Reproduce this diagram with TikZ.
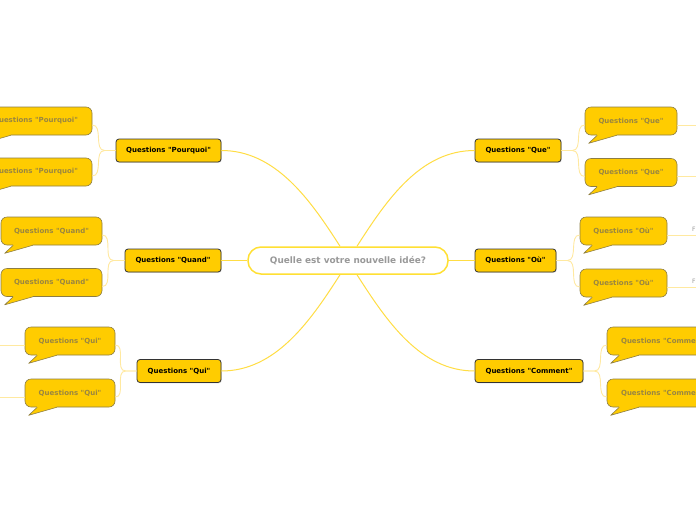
\documentclass[tikz,border=0pt]{standalone}
\usepackage{fontspec}
\setmainfont{DejaVu Sans}[Ligatures=TeXOff]
\usetikzlibrary{shadows}
\definecolor{mainfill}{HTML}{FFCC00}
\definecolor{centerline}{HTML}{FFE033}
\definecolor{branch}{HTML}{FFDD44}
\definecolor{twig}{HTML}{FFE9A0}
\definecolor{bubbletext}{HTML}{9A8640}
\definecolor{bubbleedge}{HTML}{8C7D45}
\definecolor{centertext}{HTML}{999999}
\newcommand\bubtail[1]{%
  \fill[mainfill] ([xshift=12.5pt,yshift=1.5pt]#1.south west) -- ([xshift=12.5pt]#1.south west) -- ([xshift=4pt,yshift=-8pt]#1.south west) -- ([xshift=32pt]#1.south west) -- ([xshift=32pt,yshift=1.5pt]#1.south west) -- cycle;
  \draw[bubbleedge,line width=0.6pt,line join=round] ([xshift=12.5pt]#1.south west) -- ([xshift=4pt,yshift=-8pt]#1.south west) -- ([xshift=32pt]#1.south west);}
\begin{document}
\begin{tikzpicture}[x=1pt,y=-1pt,
  topic/.style={draw=black!80, fill=mainfill, rounded corners=3pt, line width=0.8pt,
    minimum height=23pt, inner sep=0pt, font=\fontsize{7}{8}\selectfont\bfseries, text=black,
    drop shadow={shadow xshift=0.8pt, shadow yshift=-0.8pt, opacity=0.25}},
  bubble/.style={draw=bubbleedge, fill=mainfill, rounded corners=6pt, line width=0.6pt,
    minimum height=28pt, inner sep=0pt, font=\fontsize{7}{8}\selectfont\bfseries, text=bubbletext},
  branchline/.style={draw=branch, line width=1pt},
  twigline/.style={draw=twig, line width=0.9pt},
  sublabel/.style={anchor=base west, inner sep=0pt, font=\fontsize{6}{7}\selectfont, text=gray!80}]
\fill[white] (0,0) rectangle (696,520);
\useasboundingbox (0,0) rectangle (696,520);

% central topic
\node[draw=centerline, line width=1.5pt, fill=white, rounded corners=13pt, minimum width=200pt,
  minimum height=27pt, inner sep=0pt, font=\fontsize{8.9}{10}\selectfont\bfseries, text=centertext]
  (ctr) at (348,260.5) {Quelle est votre nouvelle idée?};

% main topics
\node[topic, minimum width=105pt] (pq) at (168.5,150.5) {Questions "Pourquoi"};
\node[topic, minimum width=96pt]  (qd) at (173,260.5) {Questions "Quand"};
\node[topic, minimum width=84pt]  (qi) at (179,371) {Questions "Qui"};
\node[topic, minimum width=86pt]  (qe) at (518,150.5) {Questions "Que"};
\node[topic, minimum width=81pt]  (ou) at (515.5,260.5) {Questions "Où"};
\node[topic, minimum width=108pt] (cm) at (529,371) {Questions "Comment"};

% main connectors
\draw[branchline] ([xshift=-8pt]ctr.north) .. controls +(-30,-47) and +(54,0) .. (pq.east);
\draw[branchline] ([xshift=9pt]ctr.north) .. controls +(30,-47) and +(-54,0) .. (qe.west);
\draw[branchline] ([xshift=-8pt]ctr.south) .. controls +(-30,47) and +(54,0) .. (qi.east);
\draw[branchline] ([xshift=9pt]ctr.south) .. controls +(30,47) and +(-54,0) .. (cm.west);
\draw[branchline] (ctr.west) -- (qd.east);
\draw[branchline] (ctr.east) -- (ou.west);

% callouts
\node[bubble, minimum width=113pt] (pq1) at (35.5,121) {Questions "Pourquoi"};
\node[bubble, minimum width=113pt] (pq2) at (35.5,172) {Questions "Pourquoi"};
\node[bubble, minimum width=101pt] (qd1) at (51.5,231) {Questions "Quand"};
\node[bubble, minimum width=101pt] (qd2) at (51.5,282.5) {Questions "Quand"};
\node[bubble, minimum width=90pt]  (qi1) at (70,341) {Questions "Qui"};
\node[bubble, minimum width=90pt]  (qi2) at (70,393) {Questions "Qui"};
\node[bubble, minimum width=92pt]  (qe1) at (631,121) {Questions "Que"};
\node[bubble, minimum width=92pt]  (qe2) at (631,172.5) {Questions "Que"};
\node[bubble, minimum width=87pt]  (ou1) at (623.5,231) {Questions "Où"};
\node[bubble, minimum width=87pt]  (ou2) at (623.5,283) {Questions "Où"};
\node[bubble, minimum width=115pt] (cm1) at (664.5,341) {Questions "Comment"};
\node[bubble, minimum width=115pt] (cm2) at (664.5,393) {Questions "Comment"};
\foreach \b in {pq1,pq2,qd1,qd2,qi1,qi2,qe1,qe2,ou1,ou2,cm1,cm2} {\bubtail{\b}}

% connectors from topics to callouts
\draw[twigline] (pq.west) -- ++(-11,0) to[out=180,in=0] ([yshift=-4pt]pq1.east);
\draw[twigline] (pq.west) -- ++(-11,0) to[out=180,in=0] ([yshift=-4pt]pq2.east);
\draw[twigline] (qd.west) -- ++(-11,0) to[out=180,in=0] ([yshift=-4pt]qd1.east);
\draw[twigline] (qd.west) -- ++(-11,0) to[out=180,in=0] ([yshift=-4pt]qd2.east);
\draw[twigline] (qi.west) -- ++(-11,0) to[out=180,in=0] ([yshift=-4pt]qi1.east);
\draw[twigline] (qi.west) -- ++(-11,0) to[out=180,in=0] ([yshift=-4pt]qi2.east);
\draw[twigline] (qe.east) -- ++(11,0) to[out=0,in=180] ([yshift=-4pt]qe1.west);
\draw[twigline] (qe.east) -- ++(11,0) to[out=0,in=180] ([yshift=-4pt]qe2.west);
\draw[twigline] (ou.east) -- ++(11,0) to[out=0,in=180] ([yshift=-4pt]ou1.west);
\draw[twigline] (ou.east) -- ++(11,0) to[out=0,in=180] ([yshift=-4pt]ou2.west);
\draw[twigline] (cm.east) -- ++(11,0) to[out=0,in=180] ([yshift=-4pt]cm1.west);
\draw[twigline] (cm.east) -- ++(11,0) to[out=0,in=180] ([yshift=-4pt]cm2.west);

% sub-branches leaving the picture
\coordinate (qi1end) at (0,345);
\coordinate (qi2end) at (0,397);
\coordinate (qe1end) at (696,125);
\coordinate (qe2end) at (696,176.5);
\coordinate (ou1end) at (696,235);
\coordinate (ou2end) at (696,287);
\draw[twigline] ([yshift=-4pt]qi1.west) -- (qi1end);
\draw[twigline] ([yshift=-4pt]qi2.west) -- (qi2end);
\draw[twigline] ([yshift=-4pt]qe1.east) -- (qe1end);
\draw[twigline] ([yshift=-4pt]qe2.east) -- (qe2end);
\draw[twigline] ([yshift=-4pt]ou1.east) -- (ou1end);
\draw[twigline] ([yshift=-4pt]ou2.east) -- (ou2end);
\node[sublabel] (ou1lab) at (692,231) {F};
\node[sublabel] (ou2lab) at (692,283) {F};
\end{tikzpicture}
\end{document}
